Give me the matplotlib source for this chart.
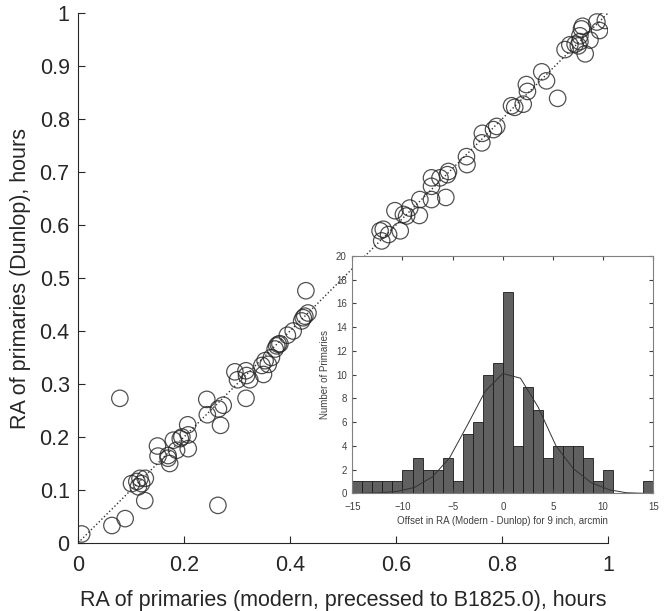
import numpy as np
import matplotlib.pyplot as plt

plt.rcParams['font.family'] = ['Liberation Sans', 'DejaVu Sans']

# scatter: modern RA vs Dunlop RA (hours, fraction of range)
ra_modern = [0.007, 0.064, 0.089, 0.079, 0.101, 0.117, 0.114, 0.127, 0.111, 0.120,
             0.126, 0.150, 0.151, 0.170, 0.173, 0.170, 0.180, 0.186, 0.196, 0.193,
             0.208, 0.208, 0.207, 0.243, 0.244, 0.265, 0.274, 0.269, 0.264, 0.296,
             0.301, 0.317, 0.318, 0.324, 0.317, 0.350, 0.347, 0.353, 0.359, 0.365,
             0.372, 0.378, 0.381, 0.375, 0.395, 0.406, 0.422, 0.428, 0.434, 0.430,
             0.425,
             0.573, 0.576, 0.570, 0.586, 0.608, 0.598, 0.614, 0.620, 0.626, 0.644,
             0.645, 0.667, 0.667, 0.667, 0.683, 0.694, 0.697, 0.699, 0.733, 0.734,
             0.763, 0.762, 0.784, 0.790, 0.818, 0.824, 0.840, 0.846, 0.848, 0.875,
             0.884, 0.905, 0.919, 0.928, 0.938, 0.944, 0.947, 0.950, 0.952, 0.966,
             0.957, 0.979, 0.995, 0.984, 0.947]
ra_dunlop = [0.017, 0.033, 0.046, 0.273, 0.112, 0.122, 0.106, 0.122, 0.116, 0.112,
             0.080, 0.183, 0.164, 0.165, 0.150, 0.160, 0.194, 0.175, 0.200, 0.197,
             0.204, 0.178, 0.223, 0.271, 0.242, 0.253, 0.260, 0.222, 0.071, 0.323,
             0.308, 0.325, 0.316, 0.308, 0.273, 0.318, 0.335, 0.344, 0.337, 0.350,
             0.366, 0.375, 0.376, 0.372, 0.392, 0.400, 0.419, 0.428, 0.434, 0.476,
             0.425,
             0.570, 0.592, 0.589, 0.582, 0.589, 0.627, 0.620, 0.617, 0.632, 0.618,
             0.648, 0.648, 0.673, 0.689, 0.689, 0.652, 0.695, 0.701, 0.729, 0.714,
             0.773, 0.755, 0.780, 0.786, 0.825, 0.822, 0.828, 0.865, 0.852, 0.889,
             0.872, 0.839, 0.931, 0.940, 0.941, 0.938, 0.946, 0.970, 0.975, 0.949,
             0.923, 0.983, 0.986, 0.967, 0.957]

# histogram of offsets (arcmin), 1-arcmin bins from -15 to 15
bin_edges = np.arange(-15, 16, 1)
counts = [1, 1, 1, 1, 1, 2, 3, 2, 2, 3, 1, 5, 6, 10, 11,
          17, 4, 9, 7, 3, 4, 4, 4, 3, 1, 2, 0, 0, 0, 1]

# fitted curve
fit_x = [-14.1, -12.3, -10.6, -8.8, -7.0, -5.3, -3.5, -1.76, 0.0,
         1.76, 3.5, 5.3, 7.0, 8.8, 10.6, 12.3, 14.1]
fit_y = [0.0, 0.05, 0.15, 0.5, 1.4, 3.0, 5.8, 8.6, 10.1,
         9.7, 7.3, 4.0, 2.1, 0.9, 0.3, 0.05, 0.0]

fig = plt.figure(figsize=(6.66, 6.11), dpi=100)
txt = '#262626'

ax = fig.add_axes([0.1171, 0.1113, 0.7958, 0.8674])
ax.plot([0, 1], [0, 1], ':', color='#333333', linewidth=1, zorder=1)
ax.scatter(ra_modern, ra_dunlop, s=140, facecolors='none', edgecolors='#262626',
           linewidths=0.9, alpha=0.8, zorder=2)
ax.set_xlim(0, 1)
ax.set_ylim(0, 1)
ax.set_xticks([0, 0.2, 0.4, 0.6, 0.8, 1])
ax.set_xticklabels(['0', '0.2', '0.4', '0.6', '0.8', '1'])
ax.set_yticks(np.arange(0, 1.01, 0.1))
ax.set_yticklabels(['0', '0.1', '0.2', '0.3', '0.4', '0.5', '0.6', '0.7', '0.8', '0.9', '1'])
ax.spines['top'].set_visible(False)
ax.spines['right'].set_visible(False)
for s in ['left', 'bottom']:
    ax.spines[s].set_color(txt)
ax.tick_params(direction='in', length=5, labelsize=15.5, colors=txt, pad=6)
ax.tick_params(axis='x', pad=9)
ax.set_xlabel('RA of primaries (modern, precessed to B1825.0), hours',
              fontsize=15.5, color=txt, labelpad=10)
ax.set_ylabel('RA of primaries (Dunlop), hours', fontsize=15.5, color=txt, labelpad=6)

ins = fig.add_axes([0.529, 0.1926, 0.452, 0.3884])
ins.bar(bin_edges[:-1], counts, width=1, align='edge', color='#606060',
        edgecolor='#1a1a1a', linewidth=0.6)
ins.plot(fit_x, fit_y, color='#333333', linewidth=0.7)
ins.set_xlim(-15, 15)
ins.set_ylim(0, 20)
ins.set_xticks(np.arange(-15, 16, 5))
ins.set_yticks(np.arange(0, 21, 2))
for s in ins.spines.values():
    s.set_color('#808080')
    s.set_linewidth(0.8)
ins.tick_params(direction='in', length=3, labelsize=7, colors='#404040',
                top=True, right=True, pad=4)
ins.tick_params(axis='x', pad=6)
ins.set_xlabel('Offset in RA (Modern - Dunlop) for 9 inch, arcmin',
              fontsize=7, color='#404040', labelpad=3)
ins.set_ylabel('Number of Primaries', fontsize=7, color='#404040', labelpad=4)

fig.savefig('out.png', dpi=100)
